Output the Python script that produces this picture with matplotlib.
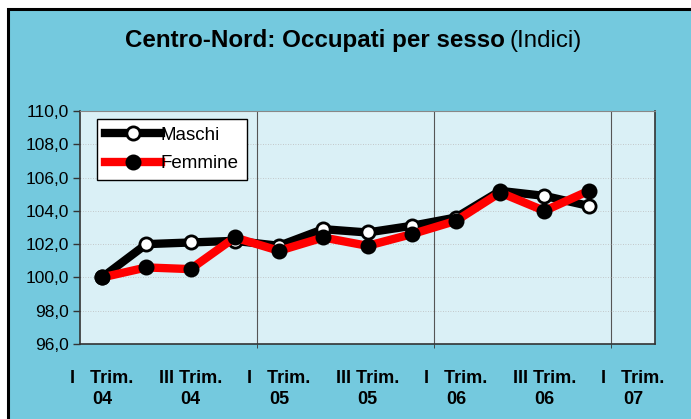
import matplotlib
matplotlib.use('Agg')
import matplotlib.pyplot as plt
from matplotlib.patches import Rectangle
from matplotlib.ticker import FuncFormatter

plt.rcParams['font.family'] = ['Liberation Sans', 'DejaVu Sans']

# data
categories = ['I   Trim.\n04', 'II Trim. 04', 'III Trim.\n04', 'IV Trim. 04',
              'I   Trim.\n05', 'II Trim. 05', 'III Trim.\n05', 'IV Trim. 05',
              'I   Trim.\n06', 'II Trim. 06', 'III Trim.\n06', 'IV Trim. 06',
              'I   Trim.\n07']
maschi = [100.0, 102.0, 102.1, 102.2, 101.9, 102.9, 102.7, 103.1, 103.6, 105.2, 104.9, 104.3]
femmine = [100.0, 100.6, 100.5, 102.4, 101.6, 102.4, 101.9, 102.6, 103.4, 105.1, 104.0, 105.2]
yticks = [96, 98, 100, 102, 104, 106, 108, 110]

outer_blue = '#74C9DE'
inner_blue = '#DAF0F6'

W, H = 691, 419
fig = plt.figure(figsize=(W / 100, H / 100), dpi=100)
fig.patch.set_facecolor('white')

# outer frame (black border, left and top only visible)
fig.add_artist(Rectangle((7.5 / W, -0.05), 1.0, (H - 8.5) / H + 0.05,
                         transform=fig.transFigure, facecolor=outer_blue,
                         edgecolor='black', lw=2.2, zorder=0))

ax = fig.add_axes([80 / W, (H - 344) / H, (655 - 80) / W, (344 - 111) / H])
ax.set_facecolor(inner_blue)

x = list(range(len(maschi)))
ax.plot(x, maschi, color='black', lw=6, marker='o', markersize=9.5,
        markerfacecolor='white', markeredgecolor='black', markeredgewidth=2,
        label='Maschi', zorder=3)
ax.plot(x, femmine, color='#FF0000', lw=6, marker='o', markersize=9.5,
        markerfacecolor='black', markeredgecolor='black', markeredgewidth=2,
        label='Femmine', zorder=4)

ax.set_xlim(-0.5, len(categories) - 0.5)
ax.set_ylim(96, 110)
ax.set_yticks(yticks)
ax.yaxis.set_major_formatter(FuncFormatter(lambda v, p: f'{v:.1f}'.replace('.', ',')))
ax.tick_params(axis='y', direction='out', length=5, width=1, color='#333333',
               labelsize=12.5, pad=3)
ax.grid(axis='y', color='#BBBBBB', lw=0.6, ls=(0, (1, 2)))

# year separators
for b in [3.5, 7.5, 11.5]:
    ax.axvline(b, color='#555555', lw=0.8, zorder=1)

ax.set_xticks(range(0, len(categories), 2))
ax.set_xticklabels(categories[::2], fontweight='bold', fontsize=13, linespacing=1.3)
ax.tick_params(axis='x', which='major', length=0, pad=19)
ax.set_xticks([3.5, 7.5, 11.5], minor=True)
ax.tick_params(axis='x', which='minor', length=3, color='#333333')

for side in ['left', 'bottom', 'right']:
    ax.spines[side].set_color('#333333')
    ax.spines[side].set_linewidth(1.2)
ax.spines['top'].set_color('#888888')
ax.spines['top'].set_linewidth(0.8)

leg = ax.legend(loc='upper left', bbox_to_anchor=(0.03, 0.965), borderaxespad=0,
                fontsize=13.5, handlelength=3.0, handletextpad=0.0,
                borderpad=0.4, labelspacing=0.6, fancybox=False,
                edgecolor='black', framealpha=1)
leg.get_frame().set_linewidth(1.0)

# title: bold part + normal part
fig.canvas.draw()
r = fig.canvas.get_renderer()
t1 = fig.text(125 / W, 1 - 47 / H, 'Centro-Nord: Occupati per sesso',
              fontsize=17.4, fontweight='bold', ha='left', va='baseline')
bb = t1.get_window_extent(r)
fig.text((bb.x1 + 5) / W, 1 - 47 / H, '(Indici)', fontsize=17.4,
         ha='left', va='baseline')

fig.savefig('out.png', dpi=100, facecolor=fig.get_facecolor())
